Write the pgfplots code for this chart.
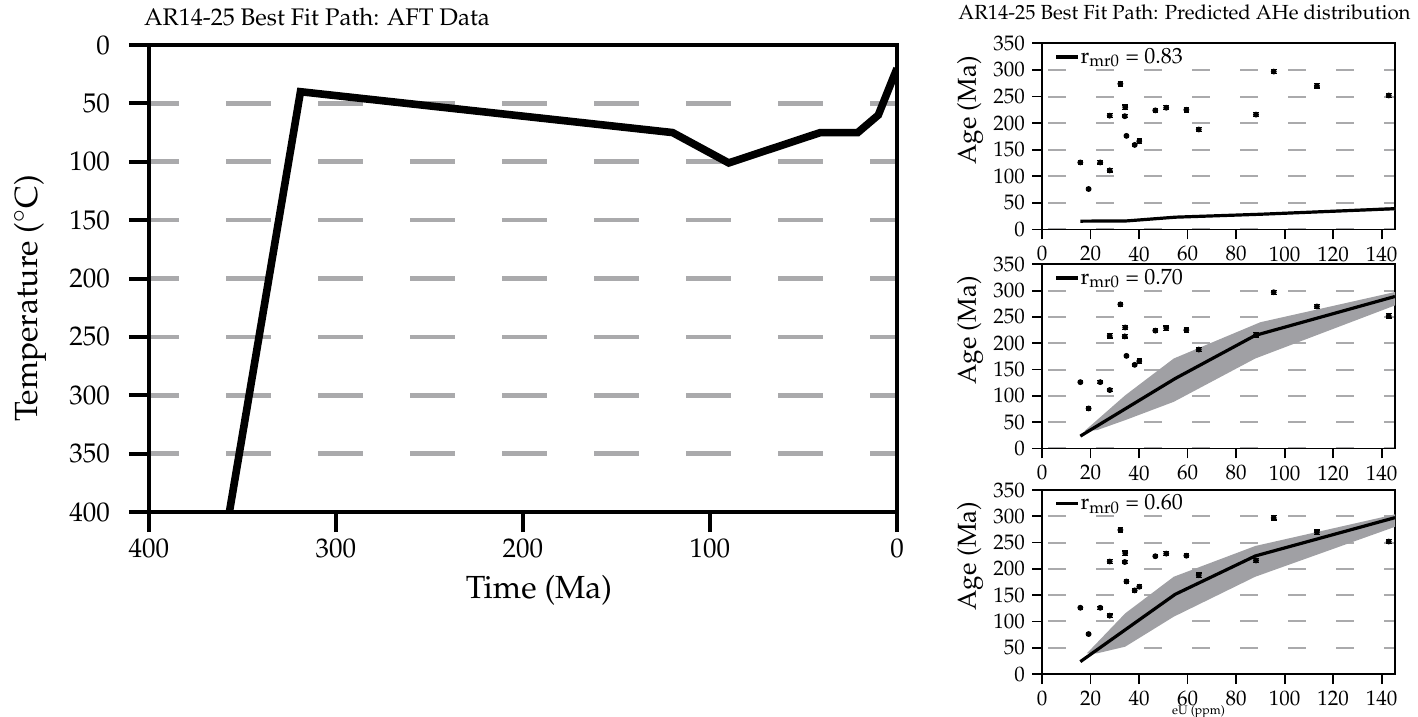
\documentclass[border=0pt]{standalone}
\usepackage[T1]{fontenc}
\usepackage{mathpazo}
\usepackage{pgfplots}
\usepackage{pgfplotstable}
\pgfplotsset{compat=1.18}

\definecolor{gridgray}{RGB}{170,170,172}
\definecolor{bandgray}{RGB}{160,160,164}

% best fit t-T path (time Ma, temperature C)
\pgfplotstableread{
time temp
357 400
319 40
120 75
90 101
41 75
21 75
10 60
0 20
}\aftpath

% measured AHe ages
\pgfplotstableread{
eU age err
15.8 126 3
19.2 76 3
24.0 126 3
27.9 111 3
27.9 214 4
32.3 274 4
34.1 213 3
34.3 230 4
34.8 176 3
38.2 159 3
40.1 166 4
46.7 224 3
51.2 229 4
59.5 225 4
64.6 188 4
88.2 216 4
95.5 297 4
113.3 270 4
142.9 252 4
}\ahe

\pgfplotsset{
  small/.style={
    width=176.5pt, height=92.5pt, scale only axis,
    xmin=0, xmax=145.5, ymin=0, ymax=350,
    xtick={0,20,...,140}, ytick={0,50,...,350},
    tick align=outside, tick pos=left, major tick length=5pt,
    axis line style={line width=0.9pt},
    every tick/.style={black, line width=0.9pt},
    ymajorgrids,
    grid style={gridgray, line width=1pt, dash pattern=on 9pt off 15pt, dash phase=21pt},
    tick label style={font=\fontsize{10.5}{12}\selectfont},
    ylabel={Age (Ma)},
    ylabel style={font=\fontsize{13}{15}\selectfont, at={(axis description cs:0,0.5)}, anchor=center, yshift=36pt, xshift=13pt},
    legend style={at={(axis description cs:0,1)}, anchor=north west, draw=none, fill=none,
      font=\fontsize{11}{13}\selectfont, inner sep=0pt, xshift=6pt, yshift=-1pt,
      nodes={inner xsep=0.5pt, inner ysep=1pt}},
    legend image code/.code={\draw[line width=1.6pt] (0pt,0pt) -- (11pt,0pt);},
  },
  pts/.style={only marks, mark=*, mark size=1.25pt, black, forget plot,
    error bars/.cd, y dir=both, y explicit,
    error bar style={line width=0.6pt},
    error mark options={rotate=90, line width=0.6pt, mark size=1.4pt}},
}

\begin{document}
\begin{tikzpicture}

% left panel: thermal history
\begin{axis}[
  at={(74.5pt,-256pt)}, anchor=south west,
  width=374pt, height=233.5pt, scale only axis,
  xmin=0, xmax=400, x dir=reverse,
  ymin=0, ymax=400, y dir=reverse,
  xtick={0,100,...,400}, ytick={0,50,...,400},
  tick align=outside, tick pos=left, major tick length=10pt,
  axis line style={line width=2pt},
  every tick/.style={black, line width=2pt},
  ymajorgrids,
  grid style={gridgray, line width=2.3pt, dash pattern=on 22.5pt off 23.5pt, dash phase=9pt},
  tick label style={font=\fontsize{13.5}{15}\selectfont},
  yticklabel style={xshift=-6pt},
  xlabel={Time (Ma)}, ylabel={Temperature ($^{\circ}$C)},
  xlabel style={font=\fontsize{16}{18}\selectfont, at={(axis description cs:0.5,0)}, anchor=center, xshift=8pt, yshift=-39pt},
  ylabel style={font=\fontsize{16}{18}\selectfont, at={(axis description cs:0,0.5)}, anchor=center, yshift=59.5pt, xshift=-10pt},
  title={AR14-25 Best Fit Path: AFT Data},
  title style={font=\fontsize{12}{14}\selectfont, at={(axis description cs:0,1)}, anchor=south west, xshift=-6pt, yshift=0pt},
]
\addplot[black, line width=3.8pt] table[x=time, y=temp] {\aftpath};
\end{axis}

% right column: AHe age vs eU
\begin{axis}[small,
  at={(521pt,-114.7pt)}, anchor=south west, height=93pt,
  title={AR14-25 Best Fit Path: Predicted AHe distribution},
  title style={font=\fontsize{10.2}{12}\selectfont, at={(axis description cs:0.5,1)}, anchor=south, xshift=-17pt, yshift=2pt},
]
\addplot[fill=bandgray, draw=none, forget plot] coordinates {
  (35,16.5) (55,24) (90,30) (145.5,42) (145.5,36) (90,27) (55,22) (35,15.5)} -- cycle;
\addplot[pts] table[x=eU, y=age, y error=err] {\ahe};
\addplot[black, line width=1.6pt] coordinates {
  (15.8,15.5) (35,16) (55,23) (90,28.5) (145.5,39)};
\addlegendentry{$\mathrm{r}_{\mathrm{mr0}}$ = 0.83}
\end{axis}

\begin{axis}[small,
  at={(521pt,-224.2pt)}, anchor=south west, height=92pt,
]
\addplot[fill=bandgray, draw=none, forget plot] coordinates {
  (17.5,33) (34.3,101) (54.3,171) (90,240) (145.5,297.5)
  (145.5,272) (87.9,171) (54.3,88.6) (34.3,53.8) (22.7,34.8)} -- cycle;
\addplot[pts] table[x=eU, y=age, y error=err] {\ahe};
\addplot[black, line width=1.6pt] coordinates {
  (15.8,23.4) (54.9,132.9) (87.9,215) (145.5,289)};
\addlegendentry{$\mathrm{r}_{\mathrm{mr0}}$ = 0.70}
\end{axis}

\begin{axis}[small,
  at={(521pt,-337pt)}, anchor=south west, height=92pt,
  xticklabel style={inner sep=0.5pt, yshift=-2.8pt},
  xlabel={eU (ppm)},
  xlabel style={font=\fontsize{6.2}{7}\selectfont, at={(axis description cs:0.5,0)}, anchor=north, yshift=-15.6pt, xshift=-10pt, inner sep=0pt},
]
\addplot[fill=bandgray, draw=none, forget plot] coordinates {
  (18.5,39.3) (34.3,115.4) (54.3,185) (87.9,243.5) (145.5,303.7)
  (145.5,280) (87.9,185) (54.3,109) (34.3,52) (22.7,39.3)} -- cycle;
\addplot[pts] table[x=eU, y=age, y error=err] {\ahe};
\addplot[black, line width=1.6pt] coordinates {
  (15.8,23.5) (54.9,151.6) (87.9,224.5) (145.5,297.4)};
\addlegendentry{$\mathrm{r}_{\mathrm{mr0}}$ = 0.60}
\end{axis}

\pgfresetboundingbox
\useasboundingbox (0pt,0pt) rectangle (709pt,-358.5pt);
\end{tikzpicture}
\end{document}
